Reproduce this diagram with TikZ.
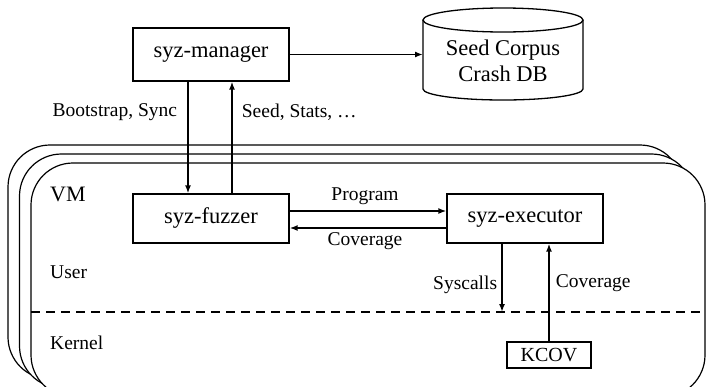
\documentclass[tikz,border=0pt]{standalone}
\usepackage{fontspec}
\setmainfont{Liberation Serif}
\usetikzlibrary{arrows.meta}
\begin{document}
\begin{tikzpicture}[x=1pt,y=-1pt,
  box/.style={draw, line width=1.3pt, inner sep=0pt, font=\fontsize{22.5}{24}\selectfont},
  lbl/.style={font=\fontsize{19.5}{21}\selectfont, inner sep=0pt},
  arr/.style={line width=1.8pt, -{Latex[length=8pt,width=6pt]}},
  vmframe/.style={draw, fill=white, line width=1.2pt, rounded corners=42pt}]
\useasboundingbox (0,0) rectangle (706,386);
\begin{scope}
  \clip (0,0) rectangle (706,386);
  % stacked VM frames
  \draw[vmframe] (8,145) rectangle (682,379);
  \draw[vmframe] (19.5,154) rectangle (693.5,388);
  \draw[vmframe] (31,163) rectangle (705,397);
  % user / kernel boundary
  \draw[line width=1.4pt, dash pattern=on 9pt off 6pt] (31,312) -- (705,312);
\end{scope}

% nodes
\node[box, minimum width=156pt, minimum height=53pt] (mgr) at (211,54.5) {syz-manager};
\node[box, minimum width=156pt, minimum height=49pt] (fuzz) at (211,218.5) {syz-fuzzer};
\node[box, minimum width=156pt, minimum height=49pt] (exec) at (525,218.5) {syz-executor};
\node[box, minimum width=84pt, minimum height=26pt, font=\fontsize{20}{22}\selectfont] (kcov) at (549,355) {KCOV};

% seed corpus / crash db cylinder
\coordinate (dbw) at (423,54);
\draw[line width=1.3pt, fill=white] (423,20) -- (423,89) arc[start angle=180, end angle=360, x radius=80pt, y radius=11pt] -- (583,20);
\draw[line width=1.3pt] (503,20) ellipse[x radius=80pt, y radius=12pt];
\node[align=center, font=\fontsize{22.5}{26}\selectfont, inner sep=0pt] (db) at (503,61) {Seed Corpus\\Crash DB};

% text labels inside the VM
\node[anchor=west, inner sep=0pt, font=\fontsize{22}{24}\selectfont] (vm) at (50,194) {VM};
\node[lbl, anchor=west] (user) at (50,272) {User};
\node[lbl, anchor=west] (kern) at (50,343) {Kernel};

% connectors
\draw[arr] (mgr.east) -- (dbw |- mgr.east);
\draw[arr] (mgr.south -| 188,0) -- (fuzz.north -| 188,0)
  node[lbl, pos=0.27, anchor=east, xshift=-10pt] {Bootstrap, Sync};
\draw[arr] (fuzz.north -| 232,0) -- (mgr.south -| 232,0)
  node[lbl, pos=0.73, anchor=west, xshift=9pt] {Seed, Stats, …};
\draw[arr] (fuzz.east |- 0,211) -- (exec.west |- 0,211)
  node[lbl, midway, above=5pt, xshift=-3pt] {Program};
\draw[arr] (exec.west |- 0,228) -- (fuzz.east |- 0,228)
  node[lbl, midway, below=4pt, xshift=-3pt] {Coverage};
\coordinate (sys) at (502,312);
\draw[arr] (exec.south -| sys) -- (sys)
  node[lbl, pos=0.6, anchor=east, xshift=-4pt] {Syscalls};
\draw[arr] (kcov.north) -- (exec.south -| kcov.north)
  node[lbl, pos=0.6, anchor=west, xshift=6pt] {Coverage};
\end{tikzpicture}
\end{document}
